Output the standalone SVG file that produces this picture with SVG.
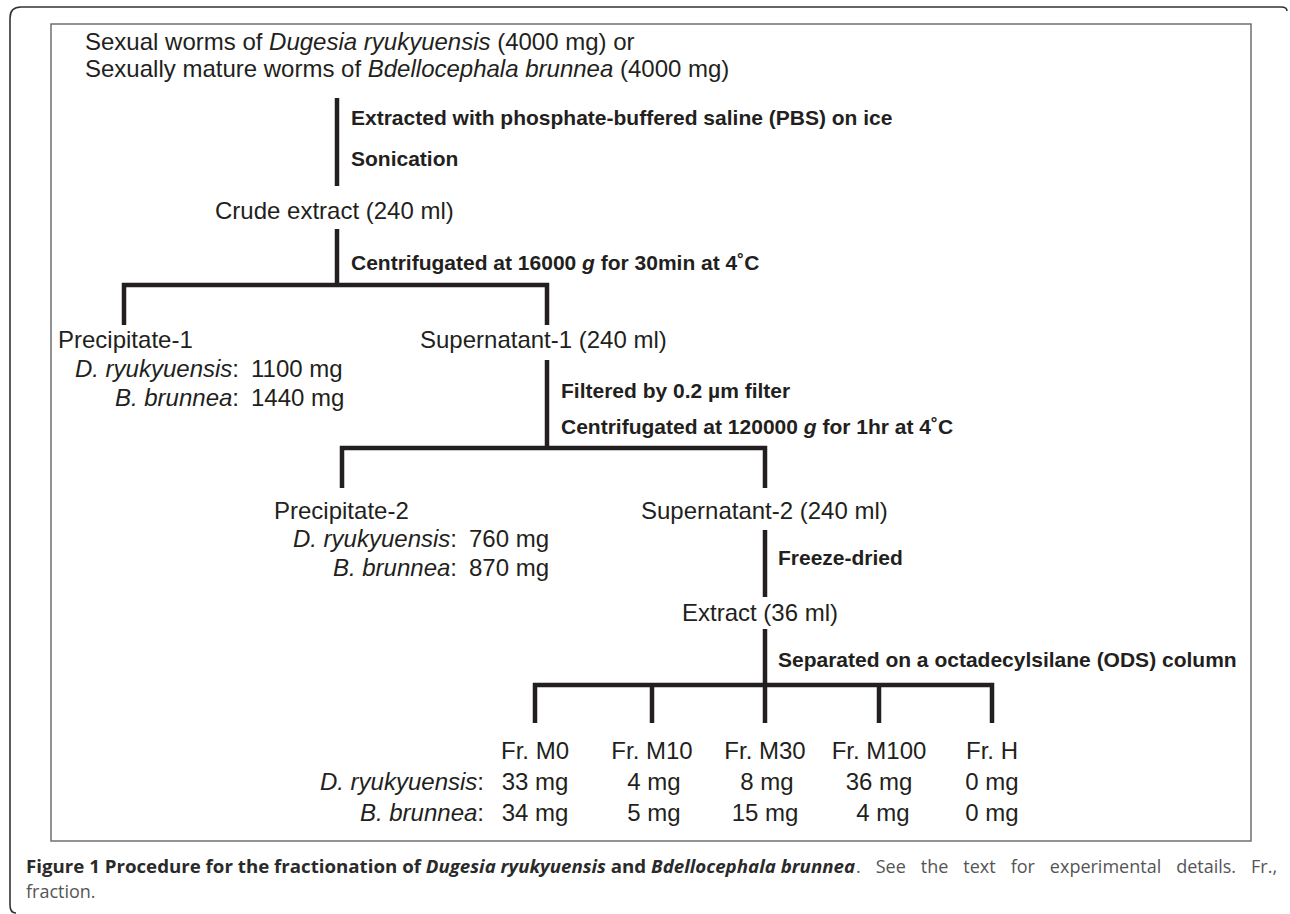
<svg xmlns="http://www.w3.org/2000/svg" width="1290" height="914" viewBox="0 0 1290 914">
<style>
.t{font-family:"Liberation Sans",Arial,Helvetica,sans-serif;font-size:24px;fill:#231f20}
.b{font-family:"Liberation Sans",Arial,Helvetica,sans-serif;font-size:21px;font-weight:bold;fill:#231f20}
.i{font-style:italic}
.e{text-anchor:end}
.m{text-anchor:middle}
.ln{fill:none;stroke:#231f20;stroke-width:4.5;stroke-linejoin:miter}
.cap{font-family:"Open Sans","Noto Sans","Liberation Sans",sans-serif;font-size:18px;fill:#555}
.capb{font-weight:bold;fill:#2a2a2a}
</style>
<rect width="1290" height="914" fill="#fff"/>
<g id="frame">
<path d="M16,913 Q10,913 10,905 L10,18 Q10,7 21,7 L1281,7 Q1287,7 1287,11" fill="none" stroke="#333" stroke-width="1.6"/>
<rect x="51" y="24" width="1200" height="817" fill="none" stroke="#666" stroke-width="1.4"/>
</g>
<g id="connectors">
<path class="ln" d="M337,98 V186"/>
<path class="ln" d="M337,229 V285"/>
<path class="ln" d="M124,325 V285 H547 V325"/>
<path class="ln" d="M547,360 V448"/>
<path class="ln" d="M342,488 V448 H765 V488"/>
<path class="ln" d="M765,530 V597"/>
<path class="ln" d="M765,629 V723"/>
<path class="ln" d="M535,723 V685 H992 V723"/>
<path class="ln" d="M652,685 V723"/>
<path class="ln" d="M879,685 V723"/>
<text class="b" x="351" y="125">Extracted with phosphate-buffered saline (PBS) on ice</text>
<text class="b" x="351" y="166">Sonication</text>
<text class="b" x="351" y="270">Centrifugated at 16000 <tspan class="i">g</tspan> for 30min at 4˚C</text>
<text class="b" x="561" y="398">Filtered by 0.2 µm filter</text>
<text class="b" x="561" y="434">Centrifugated at 120000 <tspan class="i">g</tspan> for 1hr at 4˚C</text>
<text class="b" x="778" y="565">Freeze-dried</text>
<text class="b" x="778" y="667">Separated on a octadecylsilane (ODS) column</text>
</g>
<g id="n_start">
<text class="t" x="85" y="50">Sexual worms of <tspan class="i">Dugesia ryukyuensis</tspan> (4000 mg) or</text>
<text class="t" x="85" y="77">Sexually mature worms of <tspan class="i">Bdellocephala brunnea</tspan> (4000 mg)</text>
</g>
<g id="n_crude">
<text class="t" x="215" y="219">Crude extract (240 ml)</text>
</g>
<g id="n_prec1">
<text class="t" x="58" y="348">Precipitate-1</text>
<text class="t e" x="239" y="377"><tspan class="i">D. ryukyuensis</tspan>:</text>
<text class="t" x="251" y="377">1100 mg</text>
<text class="t e" x="239" y="406"><tspan class="i">B. brunnea</tspan>:</text>
<text class="t" x="251" y="406">1440 mg</text>
</g>
<g id="n_sup1">
<text class="t" x="420" y="348">Supernatant-1 (240 ml)</text>
</g>
<g id="n_prec2">
<text class="t" x="274" y="519">Precipitate-2</text>
<text class="t e" x="457" y="547"><tspan class="i">D. ryukyuensis</tspan>:</text>
<text class="t" x="469" y="547">760 mg</text>
<text class="t e" x="457" y="576"><tspan class="i">B. brunnea</tspan>:</text>
<text class="t" x="469" y="576">870 mg</text>
</g>
<g id="n_sup2">
<text class="t" x="641" y="519">Supernatant-2 (240 ml)</text>
</g>
<g id="n_extract">
<text class="t" x="682" y="621">Extract (36 ml)</text>
</g>
<g id="n_rowlabels">
<text class="t e" x="484" y="790"><tspan class="i">D. ryukyuensis</tspan>:</text>
<text class="t e" x="484" y="821"><tspan class="i">B. brunnea</tspan>:</text>
</g>
<g id="n_m0">
<text class="t m" x="535" y="759">Fr. M0</text>
<text class="t m" x="535" y="790">33 mg</text>
<text class="t m" x="535" y="821">34 mg</text>
</g>
<g id="n_m10">
<text class="t m" x="652" y="759">Fr. M10</text>
<text class="t m" x="654" y="790">4 mg</text>
<text class="t m" x="654" y="821">5 mg</text>
</g>
<g id="n_m30">
<text class="t m" x="765" y="759">Fr. M30</text>
<text class="t m" x="767" y="790">8 mg</text>
<text class="t m" x="765" y="821">15 mg</text>
</g>
<g id="n_m100">
<text class="t m" x="879" y="759">Fr. M100</text>
<text class="t m" x="879" y="790">36 mg</text>
<text class="t m" x="883" y="821">4 mg</text>
</g>
<g id="n_h">
<text class="t m" x="992" y="759">Fr. H</text>
<text class="t m" x="992" y="790">0 mg</text>
<text class="t m" x="992" y="821">0 mg</text>
</g>
<g id="caption">
<text class="cap capb" x="26" y="873" textLength="829" lengthAdjust="spacingAndGlyphs">Figure 1 Procedure for the fractionation of <tspan class="i">Dugesia ryukyuensis</tspan> and <tspan class="i">Bdellocephala brunnea</tspan></text>
<text class="cap" x="856" y="873" font-size="19" word-spacing="10.3">. See the text for experimental details. Fr.,</text>
<text class="cap" x="26" y="898">fraction.</text>
</g>
</svg>
